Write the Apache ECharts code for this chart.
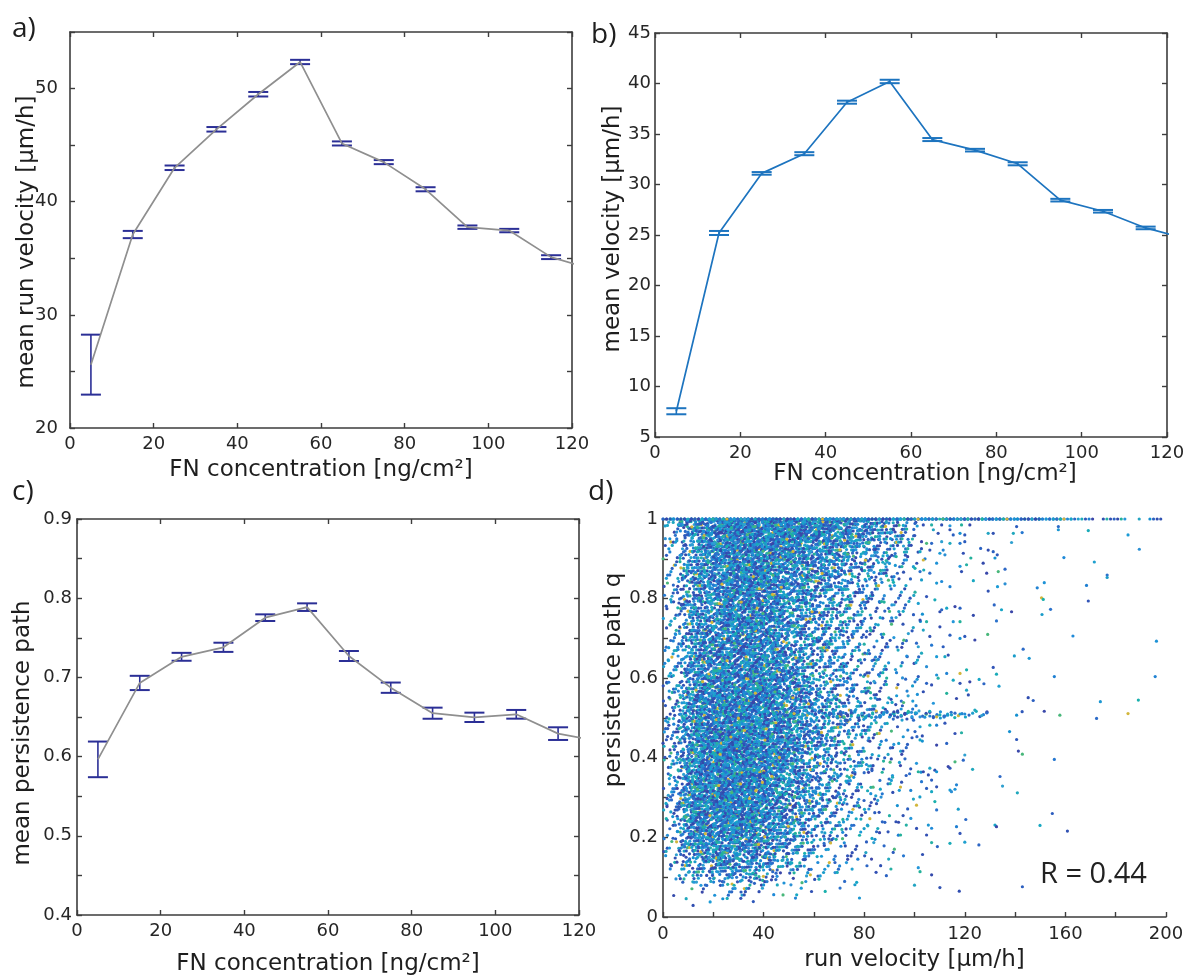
<!DOCTYPE html>
<html>
<head>
<meta charset="utf-8">
<script src="https://cdn.jsdelivr.net/npm/echarts@6/dist/echarts.min.js"></script>
<style>
  html, body { margin: 0; padding: 0; background: #ffffff; }
  #chart { width: 1189px; height: 978px; }
</style>
</head>
<body>
<div id="chart"></div>
<script>
// ---- panels a-c: means per FN concentration bin (last bin sits just past 120) ----
const fnConc      = [5, 15, 25, 35, 45, 55, 65, 75, 85, 95, 105, 115, 125];
const runVelMean  = [25.6, 37.1, 43.0, 46.4, 49.5, 52.35, 45.15, 43.5, 41.1, 37.75, 37.45, 35.1, 34.0];
const runVelErr   = [2.65, 0.32, 0.2, 0.2, 0.2, 0.19, 0.18, 0.18, 0.18, 0.15, 0.15, 0.17, null];
const velMean     = [7.55, 25.2, 31.1, 33.05, 38.15, 40.2, 34.45, 33.4, 32.05, 28.45, 27.35, 25.7, 24.6];
const velErr      = [0.3, 0.2, 0.13, 0.15, 0.15, 0.17, 0.15, 0.13, 0.15, 0.13, 0.13, 0.13, null];
const persMean    = [0.5965, 0.693, 0.726, 0.738, 0.7754, 0.7887, 0.727, 0.687, 0.6548, 0.6496, 0.6534, 0.629, 0.619];
const persErr     = [0.0225, 0.009, 0.005, 0.0058, 0.0042, 0.0048, 0.0063, 0.0065, 0.007, 0.0059, 0.0055, 0.008, null];

// ---- panel d: point cloud of run velocity vs persistence ----
// counts of points per cell (velocity bins of 10 µm/h, q bins of 0.05), top row is q 0.95-1.00
const cloudVelStart = [0, 10, 20, 30, 40, 50, 60, 70, 80, 90];
const cloudQStart = [0.95, 0.90, 0.85, 0.80, 0.75, 0.70, 0.65, 0.60, 0.55, 0.50,
                     0.45, 0.40, 0.35, 0.30, 0.25, 0.20, 0.15, 0.10, 0.05, 0.00];
const cloudCounts = [
  [24, 105, 150, 160, 155, 140, 120, 95, 60, 36],
  [20, 88, 125, 130, 125, 108, 85, 62, 40, 24],
  [17, 80, 115, 118, 108, 86, 62, 44, 28, 17],
  [17, 78, 108, 112, 98, 72, 50, 34, 22, 13],
  [17, 78, 108, 112, 92, 64, 44, 30, 18, 11],
  [18, 78, 108, 110, 90, 60, 42, 28, 16, 10],
  [20, 84, 110, 112, 92, 60, 40, 26, 15, 9],
  [22, 86, 114, 116, 94, 60, 40, 24, 14, 9],
  [25, 98, 120, 124, 104, 68, 44, 26, 15, 9],
  [27, 105, 128, 130, 110, 72, 48, 30, 18, 12],
  [29, 114, 135, 135, 112, 72, 46, 28, 16, 10],
  [29, 118, 140, 138, 112, 70, 44, 26, 15, 9],
  [29, 120, 142, 138, 106, 64, 40, 24, 13, 8],
  [29, 120, 142, 132, 100, 60, 36, 22, 12, 7],
  [27, 120, 138, 125, 92, 54, 32, 19, 10, 6],
  [25, 112, 130, 114, 78, 46, 26, 15, 8, 5],
  [20, 95, 110, 95, 62, 34, 20, 10, 6, 3],
  [11, 52, 66, 56, 38, 20, 11, 6, 3, 2],
  [3, 12, 17, 15, 10, 5, 3, 2, 1, 0],
  [0, 0, 0, 0, 1, 0, 0, 0, 0, 0]
];
// points lying exactly on q = 1, per 10 µm/h bin from 0 to 200
const fullQCounts = [20, 30, 30, 30, 30, 30, 30, 30, 30, 30, 30, 28, 26, 24, 22, 18, 8, 5, 4, 4];
// streak of points at q = 0.5, per 10 µm/h bin starting at 40
const halfQStart  = [40, 50, 60, 70, 80, 90, 100, 110, 120];
const halfQCounts = [6, 10, 14, 16, 16, 16, 12, 10, 8];
// individual points in the sparse fast region [run velocity, q]
const sparsePoints = [
  [100.2,0.989],[103.5,0.985],[106.8,0.985],[110.8,0.985],[114.1,0.983],[118.7,0.985],[122.0,0.985],
  [107.5,0.973],[109.4,0.964],[114.1,0.973],[115.4,0.960],[118.1,0.964],[120.0,0.960],
  [102.8,0.943],[104.8,0.939],[106.8,0.939],[110.8,0.943],[114.1,0.939],[118.1,0.939],[120.0,0.943],
  [102.2,0.918],[106.1,0.922],[110.1,0.914],[112.1,0.910],[108.8,0.889],[111.4,0.922],[103.5,0.897],
  [100.2,0.876],[102.2,0.868],[102.8,0.847],[106.1,0.864],[108.8,0.839],[110.8,0.843],[114.1,0.830],
  [104.8,0.805],[108.1,0.797],[101.5,0.788],[110.8,0.772],[112.8,0.776],[116.1,0.780],[118.1,0.776],
  [119.4,0.914],[120.7,0.885],[118.7,0.868],[118.1,0.881],[122.4,0.902],[127.3,0.889],[129.3,0.964],
  [131.3,0.964],[129.3,0.922],[131.3,0.918],[132.0,0.902],[132.9,0.910],[128.7,0.864],[133.3,0.868],
  [136.0,0.874],[138.6,0.941],[139.3,0.964],[142.8,0.966],[140.6,0.981],[123.4,0.845],[129.3,0.819],
  [133.0,0.830],[136.0,0.837],[151.6,0.840],[148.8,0.827],[150.5,0.802],[151.2,0.798],[154.1,0.773],
  [150.7,0.760],[157.2,0.981],[157.2,0.973],[159.4,0.903],[168.4,0.833],[169.1,0.794],[169.1,0.971],
  [171.5,0.892],[131.7,0.784],[134.6,0.772],[138.6,0.767],[126.3,0.926],
  [102.2,0.746],[104.8,0.742],[110.1,0.767],[115.4,0.742],[118.1,0.742],[123.4,0.758],[103.5,0.721],
  [106.1,0.705],[110.1,0.729],[114.1,0.708],[118.1,0.700],[120.0,0.705],[124.0,0.696],[129.1,0.710],
  [100.8,0.688],[101.5,0.679],[102.8,0.663],[106.8,0.683],[111.4,0.679],[112.1,0.654],[113.4,0.658],
  [108.8,0.654],[104.8,0.629],[108.8,0.608],[112.8,0.612],[118.1,0.612],[120.7,0.621],[132.6,0.744],
  [139.7,0.656],[143.2,0.673],[145.6,0.650],[163.0,0.706],[155.6,0.604],[131.3,0.627],[132.6,0.610],
  [133.6,0.580],[127.6,0.586],[125.7,0.597],[122.0,0.591],[104.8,0.587],[106.8,0.583],[109.4,0.600],
  [103.5,0.566],[107.5,0.537],[112.8,0.562],[116.7,0.549],[120.7,0.570],[121.4,0.558],[145.2,0.551],
  [147.2,0.544],[140.6,0.507],[142.8,0.516],[151.6,0.517],[157.8,0.507],[128.7,0.513],[126.7,0.506],
  [124.0,0.520],[100.2,0.591],[101.5,0.604],[115.4,0.595],[118.1,0.587],
  [100.8,0.512],[102.2,0.503],[104.1,0.502],[106.1,0.505],[108.8,0.503],[110.1,0.508],[112.1,0.505],
  [114.7,0.508],[116.1,0.512],[118.1,0.510],[120.0,0.510],
  [108.8,0.482],[112.1,0.487],[106.1,0.482],[102.2,0.478],[100.2,0.466],[102.2,0.445],[108.8,0.432],
  [112.8,0.436],[116.1,0.461],[118.7,0.463],[103.1,0.455],[100.8,0.386],[101.5,0.365],[103.5,0.365],
  [106.1,0.374],[108.1,0.369],[105.5,0.357],[106.8,0.344],[108.8,0.365],[114.1,0.374],[113.4,0.378],
  [116.1,0.390],[119.4,0.394],[120.0,0.407],[123.1,0.371],[102.8,0.340],[104.8,0.323],[106.8,0.315],
  [108.8,0.327],[114.1,0.319],[114.7,0.315],[116.1,0.321],[116.7,0.332],[100.8,0.281],[108.1,0.290],
  [108.8,0.269],[117.4,0.271],[120.4,0.245],[105.5,0.231],[106.8,0.223],[116.7,0.227],[118.1,0.210],
  [114.1,0.185],[120.0,0.188],[125.6,0.181],[132.0,0.231],[132.6,0.227],[109.1,0.177],[104.8,0.206],
  [106.8,0.187],[103.2,0.157],[101.5,0.124],[102.2,0.114],[106.8,0.106],[100.0,0.080],[110.1,0.074],
  [117.8,0.065],[142.9,0.076],[137.8,0.466],[140.6,0.446],[141.3,0.417],[142.9,0.409],[134.0,0.353],
  [135.0,0.329],[140.9,0.312],[155.6,0.396],[154.8,0.260],[149.9,0.230],[160.8,0.216],
  [184.9,0.960],[189.4,0.924],[196.2,0.693],[195.7,0.604],[184.9,0.511],[189.0,0.545],[176.6,0.859],
  [176.6,0.853],[172.4,0.499],[173.9,0.541]
];
// dot colours of the cloud (blue-teal colour scale, rare warm dots)
const dotColours = ['#2f4db0', '#1f8ad8', '#2d68c6', '#16a5c6', '#3152b3', '#2597da', '#1ab0ad',
                    '#2b5fc0', '#1e7fd2', '#2fa0d0', '#3a46a8', '#1b9bd6', '#23b19a', '#2c73cc',
                    '#1590d0', '#3356b8', '#20a8bd', '#2a62c2', '#2a8fd4', '#3349ab',
                    '#1a9cc9', '#2e58ba', '#19aab8', '#2577d0', '#3250b4', '#1e92d6', '#22a4c2',
                    '#2c6bc8', '#3a48aa', '#1fa0cf', '#2b5cbe', '#27b0a4', '#2183d3', '#3153b2',
                    '#1c97d2', '#48b77a', '#2d66c4', '#18a8c2', '#2f4fb2', '#d2b63c'];

// ---- build the point cloud ----
// each cell's count is laid out on an even low-discrepancy pattern with a tent-shaped
// footprint twice the cell size, so neighbouring cells blend without seams
const R4 = (function () {
  let g = 1.0;
  for (let i = 0; i < 30; i++) g = Math.pow(1 + g, 1 / 5);
  return [1 / g, 1 / (g * g), 1 / (g * g * g), 1 / (g * g * g * g)];
})();
const frac = x => x - Math.floor(x);
const cloud = [];
let seq = 1;
function pushPoint(v, q) {
  cloud.push([v, q, (cloud.length * 7) % dotColours.length]);
}
function reflect(x, lo, hi) {
  if (x < lo) return 2 * lo - x;
  if (x > hi) return 2 * hi - x;
  return x;
}
cloudQStart.forEach((q0, r) => {
  cloudVelStart.forEach((v0, c) => {
    const n = cloudCounts[r][c];
    for (let k = 0; k < n; k++, seq++) {
      const u = R4.map(a => frac(0.5 + seq * a));
      const v = v0 - 5 + 10 * (u[0] + u[1]);
      const q = q0 - 0.025 + 0.05 * (u[2] + u[3]);
      if (v < 0) continue;            // nothing is recorded below zero velocity
      pushPoint(v, reflect(q, 0, 1));
    }
  });
});
fullQCounts.forEach((n, i) => {
  for (let k = 0; k < n; k++, seq++) pushPoint(i * 10 + 10 * frac(0.5 + seq * R4[0]), 1);
});
halfQStart.forEach((v0, i) => {
  for (let k = 0; k < halfQCounts[i]; k++, seq++) {
    pushPoint(v0 + 10 * frac(0.5 + seq * R4[0]), 0.5 + 0.018 * frac(0.5 + seq * R4[1]));
  }
});
sparsePoints.forEach(p => pushPoint(p[0], p[1]));

// ---- styling helpers ----
const FONT = '"DejaVu Sans", "Liberation Sans", sans-serif';
const AXIS_COLOUR = '#3d3d3d';
const TEXT_COLOUR = '#262626';
const NAME_STYLE = { color: '#1e1e1e', fontFamily: FONT, fontSize: 23 };

function baseAxis(opts) {
  return Object.assign({
    type: 'value',
    axisLine: { show: true, onZero: false, lineStyle: { color: AXIS_COLOUR, width: 1.6 } },
    axisTick: { show: true, inside: true, length: 5, lineStyle: { color: AXIS_COLOUR, width: 1.4 } },
    splitLine: { show: false },
    axisLabel: { show: true, color: TEXT_COLOUR, fontFamily: FONT, fontSize: 18, margin: 7 },
    nameTextStyle: NAME_STYLE,
    nameLocation: 'middle'
  }, opts);
}
function mirrorAxis(opts) {
  const a = baseAxis(opts);
  a.axisLabel = { show: false };
  return a;
}
function nameStyle(padding) {
  return Object.assign({}, NAME_STYLE, { padding: padding });
}

function errorBars(xi, yi, means, errs, colour) {
  const data = [];
  fnConc.forEach((x, i) => { if (errs[i] != null) data.push([x, means[i] - errs[i], means[i] + errs[i]]); });
  return {
    type: 'custom', xAxisIndex: xi, yAxisIndex: yi, data: data,
    encode: { x: 0, y: [1, 2] }, silent: true, z: 2,
    renderItem: function (params, api) {
      const lo = api.coord([api.value(0), api.value(1)]);
      const hi = api.coord([api.value(0), api.value(2)]);
      const h = 10;
      return {
        type: 'group',
        children: [
          { type: 'line', shape: { x1: lo[0], y1: lo[1], x2: hi[0], y2: hi[1] }, style: { stroke: colour, lineWidth: 1.6 } },
          { type: 'line', shape: { x1: lo[0] - h, y1: lo[1], x2: lo[0] + h, y2: lo[1] }, style: { stroke: colour, lineWidth: 2 } },
          { type: 'line', shape: { x1: hi[0] - h, y1: hi[1], x2: hi[0] + h, y2: hi[1] }, style: { stroke: colour, lineWidth: 2 } }
        ]
      };
    }
  };
}
function meanLine(xi, yi, means, colour) {
  return {
    type: 'line', xAxisIndex: xi, yAxisIndex: yi, z: 3,
    data: fnConc.map((x, i) => [x, means[i]]),
    showSymbol: false, symbol: 'none', clip: true, silent: true,
    lineStyle: { color: colour, width: 1.7 }
  };
}

const NAVY = '#2b2f96';
const GREY = '#8f8f8f';
const BLUE = '#1d74bf';

const everyTen = v => (Math.round(v) % 10 === 0 ? String(Math.round(v)) : '');
const tenths = v => (Math.round(v * 100) % 10 === 0 ? v.toFixed(1) : '');
const qLabel = v => {
  const r = Math.round(v * 10);
  if (r % 2 !== 0) return '';
  return r === 0 ? '0' : r === 10 ? '1' : (r / 10).toFixed(1);
};
const everyForty = v => (Math.round(v) % 40 === 0 ? String(Math.round(v)) : '');
const LETTER_FONT = '28px "Open Sans", sans-serif';

const option = {
  animation: false,
  backgroundColor: '#ffffff',
  grid: [
    { left: 70, top: 32, width: 502, height: 396 },
    { left: 655, top: 33, width: 512, height: 404 },
    { left: 77, top: 519, width: 502, height: 396 },
    { left: 663, top: 519, width: 503, height: 398 }
  ],
  xAxis: [
    baseAxis({ gridIndex: 0, min: 0, max: 120, interval: 20, name: 'FN concentration [ng/cm²]', nameGap: 31 }),
    mirrorAxis({ gridIndex: 0, position: 'top', min: 0, max: 120, interval: 20 }),
    baseAxis({ gridIndex: 1, min: 0, max: 120, interval: 20, name: 'FN concentration [ng/cm²]', nameGap: 25,
               nameTextStyle: nameStyle([0, 0, 0, 28]) }),
    mirrorAxis({ gridIndex: 1, position: 'top', min: 0, max: 120, interval: 20 }),
    baseAxis({ gridIndex: 2, min: 0, max: 120, interval: 20, name: 'FN concentration [ng/cm²]', nameGap: 38 }),
    mirrorAxis({ gridIndex: 2, position: 'top', min: 0, max: 120, interval: 20 }),
    baseAxis({ gridIndex: 3, min: 0, max: 200, interval: 20, name: 'run velocity [μm/h]', nameGap: 32,
               axisLabel: { color: TEXT_COLOUR, fontFamily: FONT, fontSize: 18, margin: 8, formatter: everyForty } })
  ],
  yAxis: [
    baseAxis({ gridIndex: 0, min: 20, max: 55, interval: 5, name: 'mean run velocity [μm/h]', nameGap: 31,
               nameMoveOverlap: false,
               axisLabel: { color: TEXT_COLOUR, fontFamily: FONT, fontSize: 18, margin: 12, formatter: everyTen },
               nameTextStyle: nameStyle([0, 24, 0, 0]) }),
    mirrorAxis({ gridIndex: 0, position: 'right', min: 20, max: 55, interval: 5 }),
    baseAxis({ gridIndex: 1, min: 5, max: 45, interval: 5, name: 'mean velocity [μm/h]', nameGap: 30,
               axisLabel: { color: TEXT_COLOUR, fontFamily: FONT, fontSize: 18, margin: 4 },
               nameTextStyle: nameStyle([0, 0, 0, 12]) }),
    mirrorAxis({ gridIndex: 1, position: 'right', min: 5, max: 45, interval: 5 }),
    baseAxis({ gridIndex: 2, min: 0.4, max: 0.9, interval: 0.05, name: 'mean persistence path', nameGap: 42,
               axisLabel: { color: TEXT_COLOUR, fontFamily: FONT, fontSize: 18, margin: 5, formatter: tenths },
               nameTextStyle: nameStyle([0, 32, 0, 0]) }),
    mirrorAxis({ gridIndex: 2, position: 'right', min: 0.4, max: 0.9, interval: 0.05 }),
    baseAxis({ gridIndex: 3, min: 0, max: 1, interval: 0.1, name: 'persistence path q', nameGap: 36,
               axisLabel: { color: TEXT_COLOUR, fontFamily: FONT, fontSize: 18, margin: 5, formatter: qLabel },
               nameTextStyle: nameStyle([0, 0, 0, 76]) })
  ],
  graphic: [
    { type: 'text', left: 12, top: 15, style: { text: 'a)', font: LETTER_FONT, fill: '#1e1e1e' } },
    { type: 'text', left: 591, top: 21, style: { text: 'b)', font: LETTER_FONT, fill: '#1e1e1e' } },
    { type: 'text', left: 12, top: 478, style: { text: 'c)', font: LETTER_FONT, fill: '#1e1e1e' } },
    { type: 'text', left: 588, top: 478, style: { text: 'd)', font: LETTER_FONT, fill: '#1e1e1e' } },
    { type: 'text', left: 1040, top: 860, z: 100, style: { text: 'R = 0.44', font: '29px "Open Sans", sans-serif', fill: '#222222' } }
  ],
  series: [
    errorBars(0, 0, runVelMean, runVelErr, NAVY),
    meanLine(0, 0, runVelMean, GREY),
    errorBars(2, 2, velMean, velErr, BLUE),
    meanLine(2, 2, velMean, BLUE),
    errorBars(4, 4, persMean, persErr, NAVY),
    meanLine(4, 4, persMean, GREY),
    {
      type: 'scatter', xAxisIndex: 6, yAxisIndex: 6,
      data: cloud, symbol: 'circle', symbolSize: 3.2,
      large: false, progressive: 0, silent: true, clip: false,
      itemStyle: { color: p => dotColours[p.data[2]], opacity: 1 }
    }
  ]
};

const chart = echarts.init(document.getElementById('chart'), null, { renderer: 'canvas' });
chart.setOption(option);
</script>
</body>
</html>
